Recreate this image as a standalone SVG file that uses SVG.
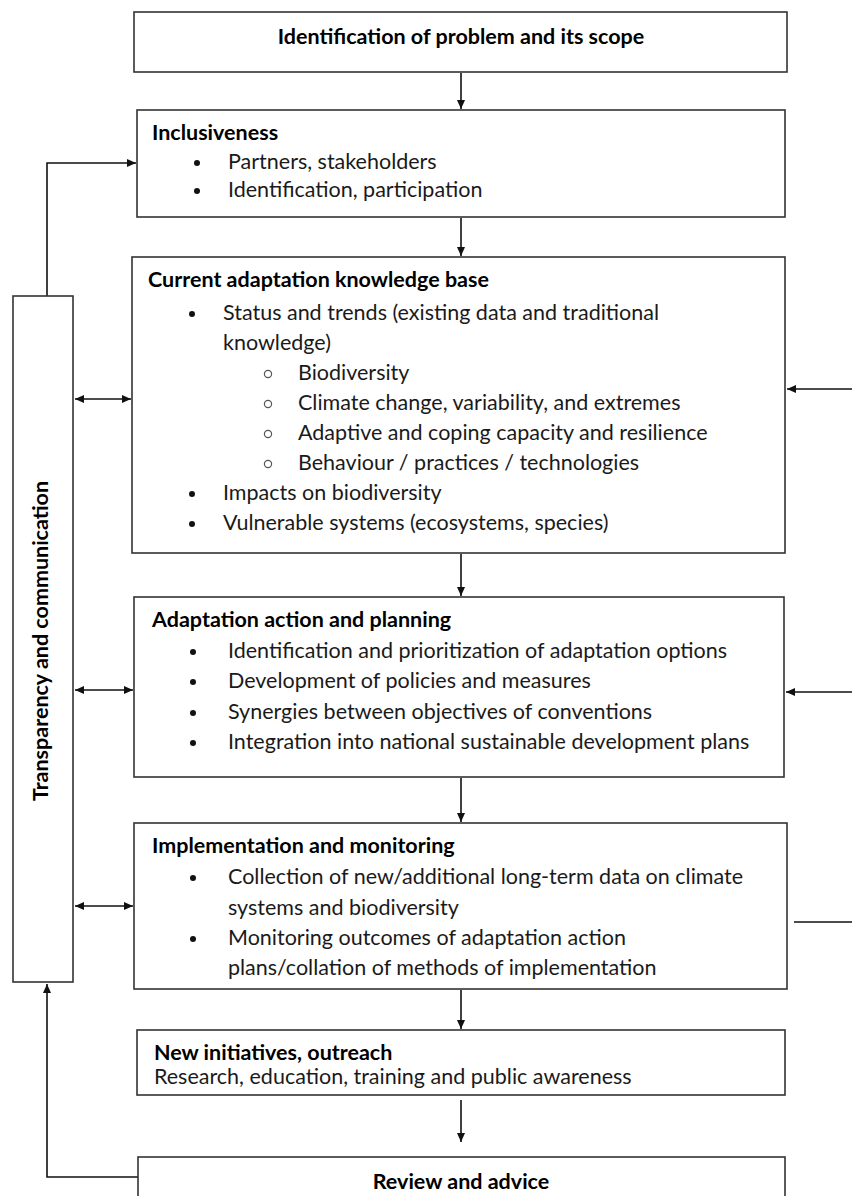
<svg xmlns="http://www.w3.org/2000/svg" width="852" height="1196" viewBox="0 0 852 1196">
<style>
  .box { fill: #ffffff; stroke: #333333; stroke-width: 1.6; }
  .t { font-family: Lato, "Liberation Sans", sans-serif; font-size: 21.5px; fill: #1a1a1a; }
  .b { font-weight: bold; fill: #000000; }
  .dot { fill: #111111; }
  .circ { fill: none; stroke: #555555; stroke-width: 1.2; }
  .con { fill: none; stroke: #111111; stroke-width: 1.6; }
</style>
<defs>
  <marker id="ah" markerUnits="userSpaceOnUse" markerWidth="10" markerHeight="10" viewBox="0 0 10 10" refX="9" refY="5" orient="auto-start-reverse">
    <path d="M0,1 L9,5 L0,9 z" fill="#111111"/>
  </marker>
</defs>
<rect width="852" height="1196" fill="#ffffff"/>

<g id="connectors">
  <line class="con" x1="461" y1="73" x2="461" y2="109" marker-end="url(#ah)"/>
  <line class="con" x1="461" y1="218" x2="461" y2="256" marker-end="url(#ah)"/>
  <line class="con" x1="461" y1="554" x2="461" y2="596" marker-end="url(#ah)"/>
  <line class="con" x1="461" y1="778" x2="461" y2="822" marker-end="url(#ah)"/>
  <line class="con" x1="461" y1="990" x2="461" y2="1029" marker-end="url(#ah)"/>
  <line class="con" x1="461" y1="1100" x2="461" y2="1142" marker-end="url(#ah)"/>
  <polyline class="con" points="47,296 47,163 136,163" marker-end="url(#ah)"/>
  <polyline class="con" points="138,1177 47,1177 47,984" marker-end="url(#ah)"/>
  <line class="con" x1="75" y1="399" x2="131" y2="399" marker-start="url(#ah)" marker-end="url(#ah)"/>
  <line class="con" x1="75" y1="690" x2="133" y2="690" marker-start="url(#ah)" marker-end="url(#ah)"/>
  <line class="con" x1="75" y1="906" x2="133" y2="906" marker-start="url(#ah)" marker-end="url(#ah)"/>
  <line class="con" x1="852" y1="389" x2="787" y2="389" marker-end="url(#ah)"/>
  <line class="con" x1="852" y1="692" x2="786" y2="692" marker-end="url(#ah)"/>
  <line class="con" x1="852" y1="922" x2="794" y2="922"/>
</g>

<g id="node-problem">
  <rect class="box" x="134" y="12" width="653" height="60"/>
  <text class="t b" x="461" y="44" text-anchor="middle">Identification of problem and its scope</text>
</g>

<g id="node-inclusiveness">
  <rect class="box" x="137" y="110" width="648" height="107"/>
  <text class="t b" x="152" y="140">Inclusiveness</text>
  <circle class="dot" cx="197" cy="163" r="3"/>
  <text class="t" x="228" y="169">Partners, stakeholders</text>
  <circle class="dot" cx="197" cy="191" r="3"/>
  <text class="t" x="228" y="197">Identification, participation</text>
</g>

<g id="node-transparency">
  <rect class="box" x="13" y="296" width="60" height="686"/>
  <text class="t b" transform="translate(48,641) rotate(-90)" text-anchor="middle">Transparency and communication</text>
</g>

<g id="node-knowledge">
  <rect class="box" x="132" y="257" width="653" height="296"/>
  <text class="t b" x="148" y="287">Current adaptation knowledge base</text>
  <circle class="dot" cx="192" cy="314" r="3"/>
  <text class="t" x="223" y="320">Status and trends (existing data and traditional</text>
  <text class="t" x="223" y="350">knowledge)</text>
  <circle class="circ" cx="268" cy="374" r="3.6"/>
  <text class="t" x="298" y="380">Biodiversity</text>
  <circle class="circ" cx="268" cy="404" r="3.6"/>
  <text class="t" x="298" y="410">Climate change, variability, and extremes</text>
  <circle class="circ" cx="268" cy="434" r="3.6"/>
  <text class="t" x="298" y="440">Adaptive and coping capacity and resilience</text>
  <circle class="circ" cx="268" cy="464" r="3.6"/>
  <text class="t" x="298" y="470">Behaviour / practices / technologies</text>
  <circle class="dot" cx="192" cy="494" r="3"/>
  <text class="t" x="223" y="500">Impacts on biodiversity</text>
  <circle class="dot" cx="192" cy="524" r="3"/>
  <text class="t" x="223" y="530">Vulnerable systems (ecosystems, species)</text>
</g>

<g id="node-adaptation">
  <rect class="box" x="134" y="597" width="650" height="180"/>
  <text class="t b" x="152" y="627">Adaptation action and planning</text>
  <circle class="dot" cx="193" cy="652" r="3"/>
  <text class="t" x="228" y="658">Identification and prioritization of adaptation options</text>
  <circle class="dot" cx="193" cy="682" r="3"/>
  <text class="t" x="228" y="688">Development of policies and measures</text>
  <circle class="dot" cx="193" cy="713" r="3"/>
  <text class="t" x="228" y="719">Synergies between objectives of conventions</text>
  <circle class="dot" cx="193" cy="743" r="3"/>
  <text class="t" x="228" y="749">Integration into national sustainable development plans</text>
</g>

<g id="node-implementation">
  <rect class="box" x="134" y="823" width="653" height="166"/>
  <text class="t b" x="152" y="853">Implementation and monitoring</text>
  <circle class="dot" cx="193" cy="878" r="3"/>
  <text class="t" x="228" y="884">Collection of new/additional long-term data on climate</text>
  <text class="t" x="228" y="915">systems and biodiversity</text>
  <circle class="dot" cx="193" cy="939" r="3"/>
  <text class="t" x="228" y="945">Monitoring outcomes of adaptation action</text>
  <text class="t" x="228" y="975">plans/collation of methods of implementation</text>
</g>

<g id="node-initiatives">
  <rect class="box" x="137" y="1030" width="648" height="65"/>
  <text class="t b" x="154" y="1060">New initiatives, outreach</text>
  <text class="t" x="154" y="1084">Research, education, training and public awareness</text>
</g>

<g id="node-review">
  <rect class="box" x="138" y="1157" width="647" height="60"/>
  <text class="t b" x="461" y="1189" text-anchor="middle">Review and advice</text>
</g>
</svg>
